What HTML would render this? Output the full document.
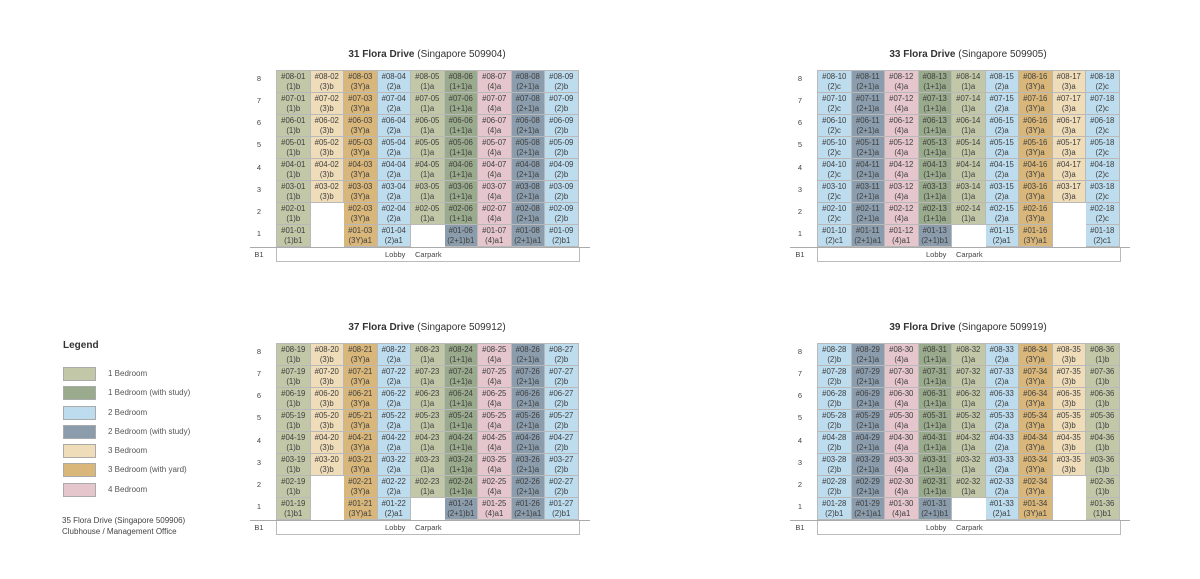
<!DOCTYPE html>
<html><head><meta charset="utf-8"><style>
body{margin:0;width:1200px;height:579px;background:#fff;position:relative;overflow:hidden;font-family:"Liberation Sans",sans-serif;color:#555}
.ttl{position:absolute;width:340px;text-align:center;font-size:10px;color:#333}
.ttl b{font-weight:bold}
table{position:absolute;border-collapse:collapse;table-layout:fixed}
td{width:32.5px;height:21px;padding:0;border:1px solid #b9b9b9;text-align:center;font-size:7.8px;line-height:9.5px;color:#3e3e3e}
.o{background:#c2c7a8}.s{background:#9aaa8c}.b{background:#bddcee}.d{background:#8b9dad}.t{background:#efdcb9}.y{background:#d9b77b}.p{background:#e4c6cc}.w{background:#fff;border-color:#fff}
.fl{position:absolute;font-size:7.5px;color:#444;width:20px;text-align:center}
.b1{position:absolute;height:13px;border:1px solid #bbb;border-top:none;font-size:7.5px;color:#444}
.line{position:absolute;height:1px;background:#aaa}
.lg{position:absolute;font-size:8px;color:#555}
.sw{position:absolute;left:63px;width:33px;height:14px;border:1px solid #aaa;box-sizing:border-box}
</style></head><body>

<!-- Block 31 -->
<div class="ttl" style="left:257px;top:49px"><b>31 Flora Drive</b> (Singapore 509904)</div>
<div class="fl" style="left:249px;top:74px">8</div><div class="fl" style="left:249px;top:96px">7</div><div class="fl" style="left:249px;top:118px">6</div><div class="fl" style="left:249px;top:140px">5</div><div class="fl" style="left:249px;top:163px">4</div><div class="fl" style="left:249px;top:185px">3</div><div class="fl" style="left:249px;top:207px">2</div><div class="fl" style="left:249px;top:229px">1</div><div class="fl" style="left:249px;top:250px">B1</div>
<table style="left:276px;top:70px">
<tr><td class="o">#08-01<br>(1)b</td><td class="t">#08-02<br>(3)b</td><td class="y">#08-03<br>(3Y)a</td><td class="b">#08-04<br>(2)a</td><td class="o">#08-05<br>(1)a</td><td class="s">#08-06<br>(1+1)a</td><td class="p">#08-07<br>(4)a</td><td class="d">#08-08<br>(2+1)a</td><td class="b">#08-09<br>(2)b</td></tr>
<tr><td class="o">#07-01<br>(1)b</td><td class="t">#07-02<br>(3)b</td><td class="y">#07-03<br>(3Y)a</td><td class="b">#07-04<br>(2)a</td><td class="o">#07-05<br>(1)a</td><td class="s">#07-06<br>(1+1)a</td><td class="p">#07-07<br>(4)a</td><td class="d">#07-08<br>(2+1)a</td><td class="b">#07-09<br>(2)b</td></tr>
<tr><td class="o">#06-01<br>(1)b</td><td class="t">#06-02<br>(3)b</td><td class="y">#06-03<br>(3Y)a</td><td class="b">#06-04<br>(2)a</td><td class="o">#06-05<br>(1)a</td><td class="s">#06-06<br>(1+1)a</td><td class="p">#06-07<br>(4)a</td><td class="d">#06-08<br>(2+1)a</td><td class="b">#06-09<br>(2)b</td></tr>
<tr><td class="o">#05-01<br>(1)b</td><td class="t">#05-02<br>(3)b</td><td class="y">#05-03<br>(3Y)a</td><td class="b">#05-04<br>(2)a</td><td class="o">#05-05<br>(1)a</td><td class="s">#05-06<br>(1+1)a</td><td class="p">#05-07<br>(4)a</td><td class="d">#05-08<br>(2+1)a</td><td class="b">#05-09<br>(2)b</td></tr>
<tr><td class="o">#04-01<br>(1)b</td><td class="t">#04-02<br>(3)b</td><td class="y">#04-03<br>(3Y)a</td><td class="b">#04-04<br>(2)a</td><td class="o">#04-05<br>(1)a</td><td class="s">#04-06<br>(1+1)a</td><td class="p">#04-07<br>(4)a</td><td class="d">#04-08<br>(2+1)a</td><td class="b">#04-09<br>(2)b</td></tr>
<tr><td class="o">#03-01<br>(1)b</td><td class="t">#03-02<br>(3)b</td><td class="y">#03-03<br>(3Y)a</td><td class="b">#03-04<br>(2)a</td><td class="o">#03-05<br>(1)a</td><td class="s">#03-06<br>(1+1)a</td><td class="p">#03-07<br>(4)a</td><td class="d">#03-08<br>(2+1)a</td><td class="b">#03-09<br>(2)b</td></tr>
<tr><td class="o">#02-01<br>(1)b</td><td class="w"></td><td class="y">#02-03<br>(3Y)a</td><td class="b">#02-04<br>(2)a</td><td class="o">#02-05<br>(1)a</td><td class="s">#02-06<br>(1+1)a</td><td class="p">#02-07<br>(4)a</td><td class="d">#02-08<br>(2+1)a</td><td class="b">#02-09<br>(2)b</td></tr>
<tr><td class="o">#01-01<br>(1)b1</td><td class="w"></td><td class="y">#01-03<br>(3Y)a1</td><td class="b">#01-04<br>(2)a1</td><td class="w"></td><td class="d">#01-06<br>(2+1)b1</td><td class="p">#01-07<br>(4)a1</td><td class="d">#01-08<br>(2+1)a1</td><td class="b">#01-09<br>(2)b1</td></tr>
</table>
<div class="line" style="left:250px;top:247px;width:340px"></div>
<div class="b1" style="left:276px;top:248px;width:302px"><span style="position:absolute;left:108px;top:2px">Lobby</span><span style="position:absolute;left:138px;top:2px">Carpark</span></div>

<!-- Block 33 -->
<div class="ttl" style="left:798px;top:49px"><b>33 Flora Drive</b> (Singapore 509905)</div>
<div class="fl" style="left:790px;top:74px">8</div><div class="fl" style="left:790px;top:96px">7</div><div class="fl" style="left:790px;top:118px">6</div><div class="fl" style="left:790px;top:140px">5</div><div class="fl" style="left:790px;top:163px">4</div><div class="fl" style="left:790px;top:185px">3</div><div class="fl" style="left:790px;top:207px">2</div><div class="fl" style="left:790px;top:229px">1</div><div class="fl" style="left:790px;top:250px">B1</div>
<table style="left:817px;top:70px">
<tr><td class="b">#08-10<br>(2)c</td><td class="d">#08-11<br>(2+1)a</td><td class="p">#08-12<br>(4)a</td><td class="s">#08-13<br>(1+1)a</td><td class="o">#08-14<br>(1)a</td><td class="b">#08-15<br>(2)a</td><td class="y">#08-16<br>(3Y)a</td><td class="t">#08-17<br>(3)a</td><td class="b">#08-18<br>(2)c</td></tr>
<tr><td class="b">#07-10<br>(2)c</td><td class="d">#07-11<br>(2+1)a</td><td class="p">#07-12<br>(4)a</td><td class="s">#07-13<br>(1+1)a</td><td class="o">#07-14<br>(1)a</td><td class="b">#07-15<br>(2)a</td><td class="y">#07-16<br>(3Y)a</td><td class="t">#07-17<br>(3)a</td><td class="b">#07-18<br>(2)c</td></tr>
<tr><td class="b">#06-10<br>(2)c</td><td class="d">#06-11<br>(2+1)a</td><td class="p">#06-12<br>(4)a</td><td class="s">#06-13<br>(1+1)a</td><td class="o">#06-14<br>(1)a</td><td class="b">#06-15<br>(2)a</td><td class="y">#06-16<br>(3Y)a</td><td class="t">#06-17<br>(3)a</td><td class="b">#06-18<br>(2)c</td></tr>
<tr><td class="b">#05-10<br>(2)c</td><td class="d">#05-11<br>(2+1)a</td><td class="p">#05-12<br>(4)a</td><td class="s">#05-13<br>(1+1)a</td><td class="o">#05-14<br>(1)a</td><td class="b">#05-15<br>(2)a</td><td class="y">#05-16<br>(3Y)a</td><td class="t">#05-17<br>(3)a</td><td class="b">#05-18<br>(2)c</td></tr>
<tr><td class="b">#04-10<br>(2)c</td><td class="d">#04-11<br>(2+1)a</td><td class="p">#04-12<br>(4)a</td><td class="s">#04-13<br>(1+1)a</td><td class="o">#04-14<br>(1)a</td><td class="b">#04-15<br>(2)a</td><td class="y">#04-16<br>(3Y)a</td><td class="t">#04-17<br>(3)a</td><td class="b">#04-18<br>(2)c</td></tr>
<tr><td class="b">#03-10<br>(2)c</td><td class="d">#03-11<br>(2+1)a</td><td class="p">#03-12<br>(4)a</td><td class="s">#03-13<br>(1+1)a</td><td class="o">#03-14<br>(1)a</td><td class="b">#03-15<br>(2)a</td><td class="y">#03-16<br>(3Y)a</td><td class="t">#03-17<br>(3)a</td><td class="b">#03-18<br>(2)c</td></tr>
<tr><td class="b">#02-10<br>(2)c</td><td class="d">#02-11<br>(2+1)a</td><td class="p">#02-12<br>(4)a</td><td class="s">#02-13<br>(1+1)a</td><td class="o">#02-14<br>(1)a</td><td class="b">#02-15<br>(2)a</td><td class="y">#02-16<br>(3Y)a</td><td class="w"></td><td class="b">#02-18<br>(2)c</td></tr>
<tr><td class="b">#01-10<br>(2)c1</td><td class="d">#01-11<br>(2+1)a1</td><td class="p">#01-12<br>(4)a1</td><td class="d">#01-13<br>(2+1)b1</td><td class="w"></td><td class="b">#01-15<br>(2)a1</td><td class="y">#01-16<br>(3Y)a1</td><td class="w"></td><td class="b">#01-18<br>(2)c1</td></tr>
</table>
<div class="line" style="left:790px;top:247px;width:340px"></div>
<div class="b1" style="left:817px;top:248px;width:302px"><span style="position:absolute;left:108px;top:2px">Lobby</span><span style="position:absolute;left:138px;top:2px">Carpark</span></div>

<!-- Block 37 -->
<div class="ttl" style="left:257px;top:322px"><b>37 Flora Drive</b> (Singapore 509912)</div>
<div class="fl" style="left:249px;top:347px">8</div><div class="fl" style="left:249px;top:369px">7</div><div class="fl" style="left:249px;top:391px">6</div><div class="fl" style="left:249px;top:413px">5</div><div class="fl" style="left:249px;top:436px">4</div><div class="fl" style="left:249px;top:458px">3</div><div class="fl" style="left:249px;top:480px">2</div><div class="fl" style="left:249px;top:502px">1</div><div class="fl" style="left:249px;top:523px">B1</div>
<table style="left:276px;top:343px">
<tr><td class="o">#08-19<br>(1)b</td><td class="t">#08-20<br>(3)b</td><td class="y">#08-21<br>(3Y)a</td><td class="b">#08-22<br>(2)a</td><td class="o">#08-23<br>(1)a</td><td class="s">#08-24<br>(1+1)a</td><td class="p">#08-25<br>(4)a</td><td class="d">#08-26<br>(2+1)a</td><td class="b">#08-27<br>(2)b</td></tr>
<tr><td class="o">#07-19<br>(1)b</td><td class="t">#07-20<br>(3)b</td><td class="y">#07-21<br>(3Y)a</td><td class="b">#07-22<br>(2)a</td><td class="o">#07-23<br>(1)a</td><td class="s">#07-24<br>(1+1)a</td><td class="p">#07-25<br>(4)a</td><td class="d">#07-26<br>(2+1)a</td><td class="b">#07-27<br>(2)b</td></tr>
<tr><td class="o">#06-19<br>(1)b</td><td class="t">#06-20<br>(3)b</td><td class="y">#06-21<br>(3Y)a</td><td class="b">#06-22<br>(2)a</td><td class="o">#06-23<br>(1)a</td><td class="s">#06-24<br>(1+1)a</td><td class="p">#06-25<br>(4)a</td><td class="d">#06-26<br>(2+1)a</td><td class="b">#06-27<br>(2)b</td></tr>
<tr><td class="o">#05-19<br>(1)b</td><td class="t">#05-20<br>(3)b</td><td class="y">#05-21<br>(3Y)a</td><td class="b">#05-22<br>(2)a</td><td class="o">#05-23<br>(1)a</td><td class="s">#05-24<br>(1+1)a</td><td class="p">#05-25<br>(4)a</td><td class="d">#05-26<br>(2+1)a</td><td class="b">#05-27<br>(2)b</td></tr>
<tr><td class="o">#04-19<br>(1)b</td><td class="t">#04-20<br>(3)b</td><td class="y">#04-21<br>(3Y)a</td><td class="b">#04-22<br>(2)a</td><td class="o">#04-23<br>(1)a</td><td class="s">#04-24<br>(1+1)a</td><td class="p">#04-25<br>(4)a</td><td class="d">#04-26<br>(2+1)a</td><td class="b">#04-27<br>(2)b</td></tr>
<tr><td class="o">#03-19<br>(1)b</td><td class="t">#03-20<br>(3)b</td><td class="y">#03-21<br>(3Y)a</td><td class="b">#03-22<br>(2)a</td><td class="o">#03-23<br>(1)a</td><td class="s">#03-24<br>(1+1)a</td><td class="p">#03-25<br>(4)a</td><td class="d">#03-26<br>(2+1)a</td><td class="b">#03-27<br>(2)b</td></tr>
<tr><td class="o">#02-19<br>(1)b</td><td class="w"></td><td class="y">#02-21<br>(3Y)a</td><td class="b">#02-22<br>(2)a</td><td class="o">#02-23<br>(1)a</td><td class="s">#02-24<br>(1+1)a</td><td class="p">#02-25<br>(4)a</td><td class="d">#02-26<br>(2+1)a</td><td class="b">#02-27<br>(2)b</td></tr>
<tr><td class="o">#01-19<br>(1)b1</td><td class="w"></td><td class="y">#01-21<br>(3Y)a1</td><td class="b">#01-22<br>(2)a1</td><td class="w"></td><td class="d">#01-24<br>(2+1)b1</td><td class="p">#01-25<br>(4)a1</td><td class="d">#01-26<br>(2+1)a1</td><td class="b">#01-27<br>(2)b1</td></tr>
</table>
<div class="line" style="left:250px;top:520px;width:340px"></div>
<div class="b1" style="left:276px;top:521px;width:302px"><span style="position:absolute;left:108px;top:2px">Lobby</span><span style="position:absolute;left:138px;top:2px">Carpark</span></div>

<!-- Block 39 -->
<div class="ttl" style="left:798px;top:322px"><b>39 Flora Drive</b> (Singapore 509919)</div>
<div class="fl" style="left:790px;top:347px">8</div><div class="fl" style="left:790px;top:369px">7</div><div class="fl" style="left:790px;top:391px">6</div><div class="fl" style="left:790px;top:413px">5</div><div class="fl" style="left:790px;top:436px">4</div><div class="fl" style="left:790px;top:458px">3</div><div class="fl" style="left:790px;top:480px">2</div><div class="fl" style="left:790px;top:502px">1</div><div class="fl" style="left:790px;top:523px">B1</div>
<table style="left:817px;top:343px">
<tr><td class="b">#08-28<br>(2)b</td><td class="d">#08-29<br>(2+1)a</td><td class="p">#08-30<br>(4)a</td><td class="s">#08-31<br>(1+1)a</td><td class="o">#08-32<br>(1)a</td><td class="b">#08-33<br>(2)a</td><td class="y">#08-34<br>(3Y)a</td><td class="t">#08-35<br>(3)b</td><td class="o">#08-36<br>(1)b</td></tr>
<tr><td class="b">#07-28<br>(2)b</td><td class="d">#07-29<br>(2+1)a</td><td class="p">#07-30<br>(4)a</td><td class="s">#07-31<br>(1+1)a</td><td class="o">#07-32<br>(1)a</td><td class="b">#07-33<br>(2)a</td><td class="y">#07-34<br>(3Y)a</td><td class="t">#07-35<br>(3)b</td><td class="o">#07-36<br>(1)b</td></tr>
<tr><td class="b">#06-28<br>(2)b</td><td class="d">#06-29<br>(2+1)a</td><td class="p">#06-30<br>(4)a</td><td class="s">#06-31<br>(1+1)a</td><td class="o">#06-32<br>(1)a</td><td class="b">#06-33<br>(2)a</td><td class="y">#06-34<br>(3Y)a</td><td class="t">#06-35<br>(3)b</td><td class="o">#06-36<br>(1)b</td></tr>
<tr><td class="b">#05-28<br>(2)b</td><td class="d">#05-29<br>(2+1)a</td><td class="p">#05-30<br>(4)a</td><td class="s">#05-31<br>(1+1)a</td><td class="o">#05-32<br>(1)a</td><td class="b">#05-33<br>(2)a</td><td class="y">#05-34<br>(3Y)a</td><td class="t">#05-35<br>(3)b</td><td class="o">#05-36<br>(1)b</td></tr>
<tr><td class="b">#04-28<br>(2)b</td><td class="d">#04-29<br>(2+1)a</td><td class="p">#04-30<br>(4)a</td><td class="s">#04-31<br>(1+1)a</td><td class="o">#04-32<br>(1)a</td><td class="b">#04-33<br>(2)a</td><td class="y">#04-34<br>(3Y)a</td><td class="t">#04-35<br>(3)b</td><td class="o">#04-36<br>(1)b</td></tr>
<tr><td class="b">#03-28<br>(2)b</td><td class="d">#03-29<br>(2+1)a</td><td class="p">#03-30<br>(4)a</td><td class="s">#03-31<br>(1+1)a</td><td class="o">#03-32<br>(1)a</td><td class="b">#03-33<br>(2)a</td><td class="y">#03-34<br>(3Y)a</td><td class="t">#03-35<br>(3)b</td><td class="o">#03-36<br>(1)b</td></tr>
<tr><td class="b">#02-28<br>(2)b</td><td class="d">#02-29<br>(2+1)a</td><td class="p">#02-30<br>(4)a</td><td class="s">#02-31<br>(1+1)a</td><td class="o">#02-32<br>(1)a</td><td class="b">#02-33<br>(2)a</td><td class="y">#02-34<br>(3Y)a</td><td class="w"></td><td class="o">#02-36<br>(1)b</td></tr>
<tr><td class="b">#01-28<br>(2)b1</td><td class="d">#01-29<br>(2+1)a1</td><td class="p">#01-30<br>(4)a1</td><td class="d">#01-31<br>(2+1)b1</td><td class="w"></td><td class="b">#01-33<br>(2)a1</td><td class="y">#01-34<br>(3Y)a1</td><td class="w"></td><td class="o">#01-36<br>(1)b1</td></tr>
</table>
<div class="line" style="left:790px;top:520px;width:340px"></div>
<div class="b1" style="left:817px;top:521px;width:302px"><span style="position:absolute;left:108px;top:2px">Lobby</span><span style="position:absolute;left:138px;top:2px">Carpark</span></div>

<!-- Legend -->
<div class="lg" style="left:63px;top:340px;font-size:10px;font-weight:bold;color:#333">Legend</div>
<div class="sw o" style="top:367px"></div><div class="lg" style="left:108px;top:369px">1 Bedroom</div>
<div class="sw s" style="top:386px"></div><div class="lg" style="left:108px;top:388px">1 Bedroom (with study)</div>
<div class="sw b" style="top:406px"></div><div class="lg" style="left:108px;top:408px">2 Bedroom</div>
<div class="sw d" style="top:425px"></div><div class="lg" style="left:108px;top:427px">2 Bedroom (with study)</div>
<div class="sw t" style="top:444px"></div><div class="lg" style="left:108px;top:446px">3 Bedroom</div>
<div class="sw y" style="top:463px"></div><div class="lg" style="left:108px;top:465px">3 Bedroom (with yard)</div>
<div class="sw p" style="top:483px"></div><div class="lg" style="left:108px;top:485px">4 Bedroom</div>
<div class="lg" style="left:62px;top:516px;color:#444">35 Flora Drive (Singapore 509906)</div>
<div class="lg" style="left:62px;top:527px;color:#444">Clubhouse / Management Office</div>
</body></html>
